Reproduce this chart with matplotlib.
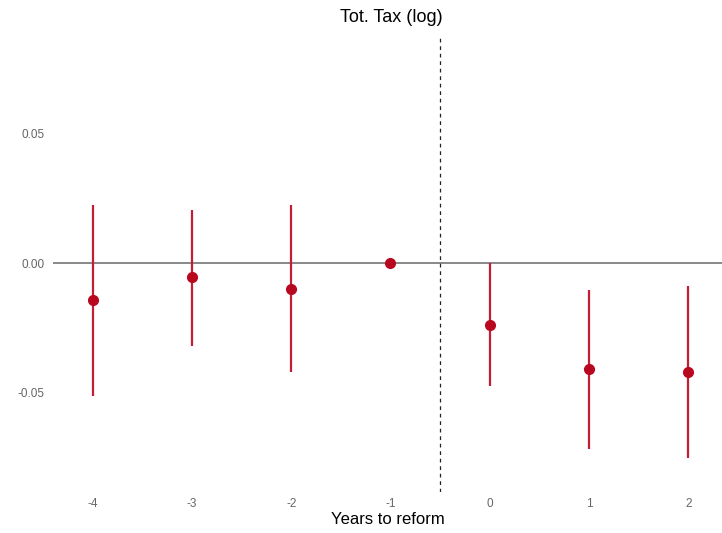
import matplotlib.pyplot as plt

plt.rcParams['font.family'] = ['Liberation Sans', 'DejaVu Sans']

# coeficientes del estudio de eventos y sus intervalos
anios = [-4, -3, -2, -1, 0, 1, 2]
coef = [-0.0142, -0.0054, -0.0100, 0.0, -0.0238, -0.0408, -0.0419]
ic_sup = [0.0223, 0.0204, 0.0223, 0.0, 0.0, -0.0104, -0.0088]
ic_inf = [-0.0512, -0.0319, -0.0419, 0.0, -0.0473, -0.0715, -0.0750]
etiquetas_y = ["-0.05", "0.00", "0.05"]
valores_y = [-0.05, 0.0, 0.05]

rojo = '#b8081f'

fig = plt.figure(figsize=(7.22, 5.33), dpi=100)
ax = fig.add_axes([0.0734, 0.077, 0.9266, 0.857])

ax.axhline(0, color='#7f7f7f', lw=1.3, zorder=1)
ax.axvline(-0.5, color='#222222', lw=0.9, ls=(0, (3, 3)), zorder=1)

ax.vlines(anios, ic_inf, ic_sup, color='#c41e35', lw=1.6, zorder=2)
ax.plot(anios, coef, 'o', color=rojo, ms=7, zorder=3)

ax.set_xlim(-4.4, 2.34)
ax.set_ylim(-0.0881, 0.0877)
ax.set_xticks(anios)
ax.set_xticklabels([str(a) for a in anios])
ax.set_yticks(valores_y)
ax.set_yticklabels(etiquetas_y)
ax.tick_params(length=0, labelsize=8.5, labelcolor='#666666', pad=6)
ax.tick_params(axis='x', pad=4)

for s in ax.spines.values():
    s.set_visible(False)

ax.set_xlabel("Years to reform", fontsize=12, labelpad=2)
fig.text(0.542, 0.967, "Tot. Tax (log)", ha='center', va='center', fontsize=13)

fig.savefig("out.png", dpi=100)
